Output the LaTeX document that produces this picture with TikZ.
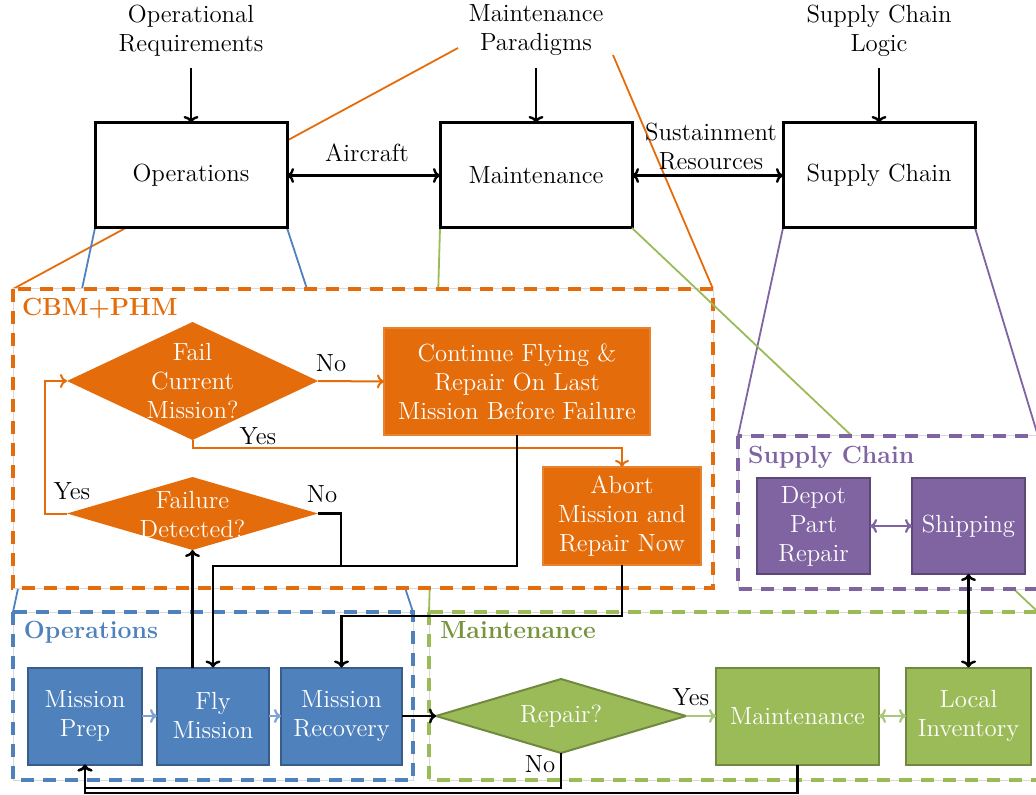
\documentclass[tikz,border=0pt]{standalone}
\usetikzlibrary{arrows.meta,shapes.geometric}
\definecolor{orangeC}{HTML}{E46C0A}
\definecolor{blueF}{HTML}{4F81BD}
\definecolor{blueD}{HTML}{385D8A}
\definecolor{blueL}{HTML}{7EA3D3}
\definecolor{greenF}{HTML}{9BBB59}
\definecolor{greenD}{HTML}{71893F}
\definecolor{greenL}{HTML}{A9C87A}
\definecolor{greenT}{HTML}{77933C}
\definecolor{purpleF}{HTML}{8064A2}
\definecolor{purpleD}{HTML}{5C4776}
\pgfdeclarelayer{back}
\pgfsetlayers{back,main}
\begin{document}
\begin{tikzpicture}[x=0.5pt,y=-0.5pt,
  every node/.style={font=\fontsize{12.4}{14.5}\selectfont, align=center, outer sep=0pt},
  tipend/.style={-{To[length=3.5pt,width=7.5pt]}},
  tipboth/.style={{To[length=3.5pt,width=7.5pt]}-{To[length=3.5pt,width=7.5pt]}},
  blk/.style={draw=black, line width=1.2pt},
  oarr/.style={draw=orangeC, line width=1pt, -{To[length=3.5pt,width=7pt]}},
  barr/.style={draw=blueL, line width=1.1pt, -{To[length=3.5pt,width=7pt]}},
  garr/.style={draw=greenL, line width=1.1pt, -{To[length=3.5pt,width=7pt]}},
  garrb/.style={draw=greenL, line width=1.1pt, {To[length=3.5pt,width=7pt]}-{To[length=3.5pt,width=7pt]}},
  parr/.style={draw=purpleF, line width=1.1pt, {To[length=3.5pt,width=7pt]}-{To[length=3.5pt,width=7pt]}},
  funnel/.style={draw=#1, line width=0.9pt},
  region/.style={fill=white, draw=black!15, line width=0.5pt,
    postaction={draw=#1, line width=1.8pt, dash pattern=on 6.5pt off 4.5pt}},
  topbox/.style={draw=black, line width=1.5pt, fill=white, minimum width=96pt, minimum height=52.5pt},
  obox/.style={fill=orangeC, draw=orangeC!85, line width=0.6pt, text=white},
  odiam/.style={diamond, fill=orangeC, inner sep=0pt},
  bbox/.style={fill=blueF, draw=blueD, line width=1pt, text=white, minimum height=48.5pt},
  gbox/.style={fill=greenF, draw=greenD, line width=1pt, text=white, minimum height=48.5pt},
  pbox/.style={fill=purpleF, draw=purpleD, line width=1pt, text=white, minimum height=48pt},
  wtxt/.style={text=white},
  head/.style={anchor=base west, inner sep=0pt, font=\fontsize{12.4}{14.5}\selectfont\bfseries}
]
\useasboundingbox (0,0) rectangle (1036,795);
\clip (0,0) rectangle (1036,795);

% corners of the dashed regions
\coordinate (cbmNW) at (13,289);   \coordinate (cbmNE) at (713,289);   \coordinate (cbmSE) at (713,588);
\coordinate (opsNW) at (13,612);   \coordinate (opsNE) at (413,612);   \coordinate (opsSE) at (413,780);
\coordinate (mntNW) at (429,612);  \coordinate (mntNE) at (1038,612);  \coordinate (mntSE) at (1038,780);
\coordinate (supNW) at (738,436);  \coordinate (supNE) at (1038,436);  \coordinate (supSE) at (1038,589);
\coordinate (parL) at (458,48);    \coordinate (parR) at (613,55);

% top level: inputs and the three domains
\node (opreq) at (191,30.5) {Operational\\Requirements};
\node (mpar) at (536,30.5) {Maintenance\\Paradigms};
\node (sclogic) at (879,30.5) {Supply Chain\\Logic};

\node[topbox] (ops) at (191,175.5) {Operations};
\node[topbox] (mnt) at (536,175.5) {Maintenance};
\node[topbox] (sup) at (879,175.5) {Supply Chain};

\draw[blk,tipend] ([yshift=-2.5pt]opreq.south) -- (ops.north);
\draw[blk,tipend] ([yshift=-2.5pt]mpar.south) -- (mnt.north);
\draw[blk,tipend] ([yshift=-2.5pt]sclogic.south) -- (sup.north);
\draw[blk,tipboth] (ops.east) -- (mnt.west);
\draw[blk,tipboth] (mnt.east) -- (sup.west);
\node (air) at (367,153) {Aircraft};
\node (sust) at (711,147) {Sustainment\\Resources};

% funnel lines from the domains to their detail regions
\begin{pgfonlayer}{back}
  \draw[funnel=orangeC] (parL) -- (cbmNW);
  \draw[funnel=orangeC] (parR) -- (cbmNE);
  \draw[funnel=blueF] (ops.south west) -- (opsNW);
  \draw[funnel=blueF] (ops.south east) -- (opsNE);
  \draw[funnel=greenF] (mnt.south west) -- (mntNW);
  \draw[funnel=purpleF] (sup.south west) -- (supNW);
  \draw[funnel=purpleF] (sup.south east) -- (supNE);
\end{pgfonlayer}

% detail regions
\draw[region=orangeC] (cbmNW) rectangle (cbmSE);
\draw[funnel=greenF] (mnt.south east) -- (mntNE);
\draw[region=purpleF] (supNW) rectangle (supSE);
\draw[region=blueF] (opsNW) rectangle (opsSE);
\draw[region=greenF] (mntNW) rectangle (mntSE);

\node[head, text=orangeC] (hcbm) at (22,316) {CBM+PHM};
\node[head, text=blueF] (hops) at (24,638) {Operations};
\node[head, text=greenT] (hmnt) at (440,638) {Maintenance};
\node[head, text=purpleF] (hsup) at (748,463) {Supply Chain};

% CBM+PHM decisions
\node[odiam, minimum width=125.5pt, minimum height=59pt] (fcm) at (192.5,381) {};
\node[wtxt] at (fcm) {Fail\\Current\\Mission?};
\node[obox, minimum width=133pt, minimum height=53.5pt] (cont) at (517,381.5) {Continue Flying \&\\Repair On Last\\Mission Before Failure};
\node[odiam, minimum width=125.5pt, minimum height=36.5pt] (fdet) at (192.5,513.5) {};
\node[wtxt] at ([yshift=-0.5pt]fdet) {Failure\\Detected?};
\node[obox, minimum width=79pt, minimum height=49pt] (abort) at (622,516) {Abort\\Mission and\\Repair Now};

% Operations
\node[bbox, minimum width=57pt] (prep) at (85,716) {Mission\\Prep};
\node[bbox, minimum width=56pt] (fly) at (213,716) {Fly\\Mission};
\node[bbox, minimum width=60.5pt] (rec) at (341.5,716) {Mission\\Recovery};

% Maintenance
\node[diamond, fill=greenF, draw=greenD, line width=1pt, inner sep=0pt, minimum width=125pt, minimum height=37pt] (rep) at (561,716) {};
\node[wtxt] at (rep) {Repair?};
\node[gbox, minimum width=81.5pt] (gmnt) at (797.5,716) {Maintenance};
\node[gbox, minimum width=62.5pt] (inv) at (968.5,716) {Local\\Inventory};

% Supply chain
\node[pbox, minimum width=56.5pt] (depot) at (813.5,526) {Depot\\Part\\Repair};
\node[pbox, minimum width=56.5pt] (ship) at (968.5,526) {Shipping};

% junction points of the feedback lines
\coordinate (j1) at (341,566);
\coordinate (j2) at (213,566);
\coordinate (j3) at (341.5,616);
\coordinate (b1) at (0,788);
\coordinate (b2) at (0,793);

% orange decision flow
\draw[oarr] (fcm.east) -- (cont.west);
\draw[oarr] (fcm.south) -- ++(0,8.5) -| (abort.north);
\draw[oarr] (fdet.west) -- ++(-22,0) |- (fcm.west);

% black connections
\draw[blk] (fdet.east) -| (j1) -- (j2);
\draw[blk,tipend] (cont.south) |- (j2) -- (fly.north);
\draw[blk,tipend] (fly.north -| fdet.south) -- (fdet.south);
\draw[blk,tipend] (abort.south) |- (j3) -- (rec.north);
\draw[blk,tipend] (rec.east) -- (rep.west);
\draw[blk,tipend] (rep.south) |- (prep.south |- b1) -- (prep.south);
\draw[blk,tipend] (gmnt.south) |- (prep.south |- b2) -- (prep.south);
\draw[blk,tipboth] (inv.north) -- (ship.south);

% coloured links inside regions
\draw[barr] (prep.east) -- (fly.west);
\draw[barr] (fly.east) -- (rec.west);
\draw[garr] (rep.east) -- (gmnt.west);
\draw[garrb] (gmnt.east) -- (inv.west);
\draw[parr] (depot.east) -- (ship.west);

% decision labels
\node (lno1) at (331,363) {No};
\node (lyes1) at (258,436) {Yes};
\node (lyes2) at (72,491) {Yes};
\node (lno2) at (322,494) {No};
\node (lyes3) at (691,697) {Yes};
\node (lno3) at (540,764) {No};
\end{tikzpicture}
\end{document}
